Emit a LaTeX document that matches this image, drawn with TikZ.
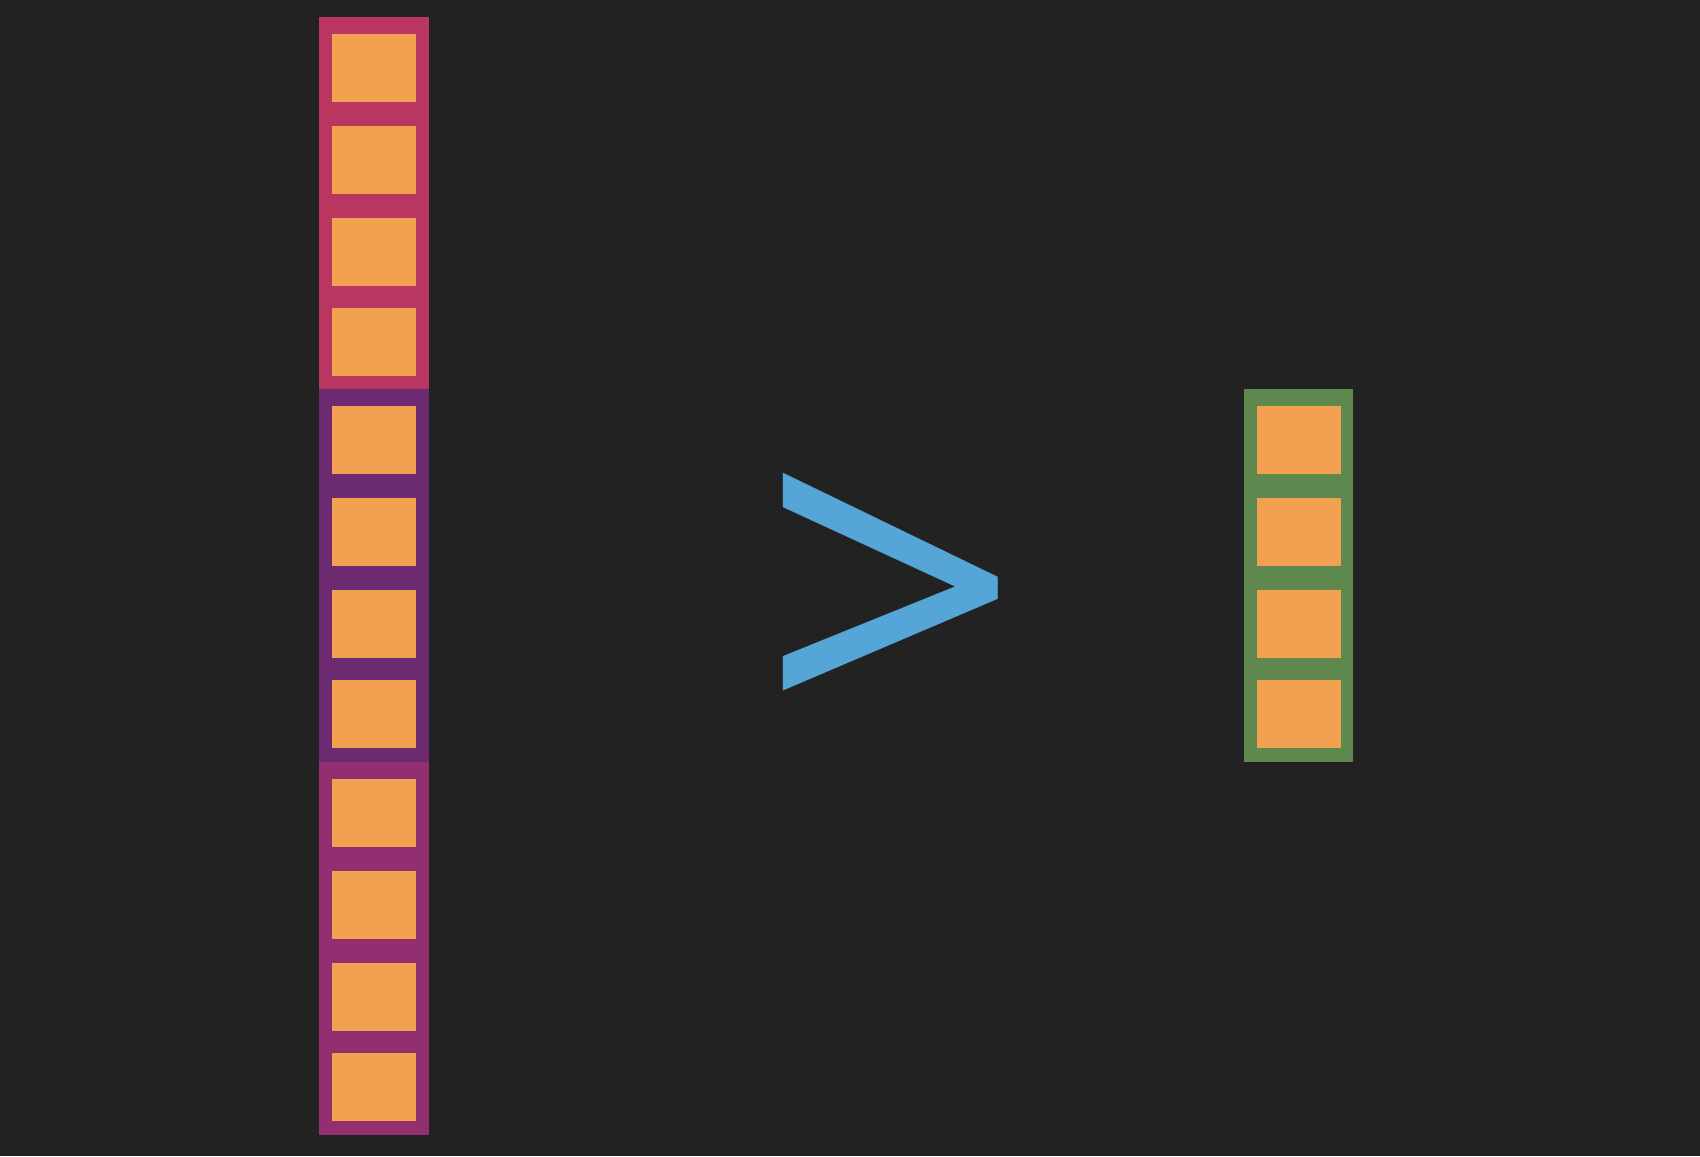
\documentclass[tikz,border=0pt]{standalone}
\usepackage{fontspec}
\newfontfamily\signfont{Noto Sans}
\usetikzlibrary{positioning}
\definecolor{bgdark}{HTML}{222222}
\definecolor{bandred}{RGB}{184,54,96}
\definecolor{bandpurple}{RGB}{108,42,112}
\definecolor{bandmagenta}{RGB}{147,46,112}
\definecolor{bandgreen}{RGB}{94,136,77}
\definecolor{cellorange}{RGB}{241,161,80}
\definecolor{signblue}{RGB}{85,165,215}

\begin{document}
\begin{tikzpicture}[x=0.01cm,y=-0.01cm]
    % Styles
    \tikzset{cell/.style ={fill=cellorange,draw=none,inner sep=0pt,minimum width=0.84cm,minimum height=0.68cm}}
    \tikzset{band/.style ={draw=none,inner sep=0pt,minimum width=1.1cm,minimum height=3.73cm}}
    \tikzset{sign/.style ={text=signblue,inner sep=0pt,font=\signfont\fontsize{126}{130}\selectfont}}

    % Background
    \fill[bgdark] (0,0) rectangle (1700,1156);

    % Left column
    \node[band,fill=bandred]     (top) at (374,203.5) {};
    \node[band,fill=bandpurple]  (mid) at (374,575.5) {};
    \node[band,fill=bandmagenta] (low) at (374,948.5) {};

    % Right column
    \node[band,fill=bandgreen,minimum width=1.09cm] (res) at (1298.5,575.5) {};

    % Cells
    \foreach \k/\d in {1/51,2/143,3/235,4/325} {
      \node[cell] (top\k) at (374,17+\d)  {};
      \node[cell] (mid\k) at (374,389+\d) {};
      \node[cell] (low\k) at (374,762+\d) {};
      \node[cell] (res\k) at (1299,389+\d) {};
    }

    % Comparison sign
    \node[sign,anchor=base west,xscale=1.03] (gt) at (760,742) {>};
\end{tikzpicture}
\end{document}
